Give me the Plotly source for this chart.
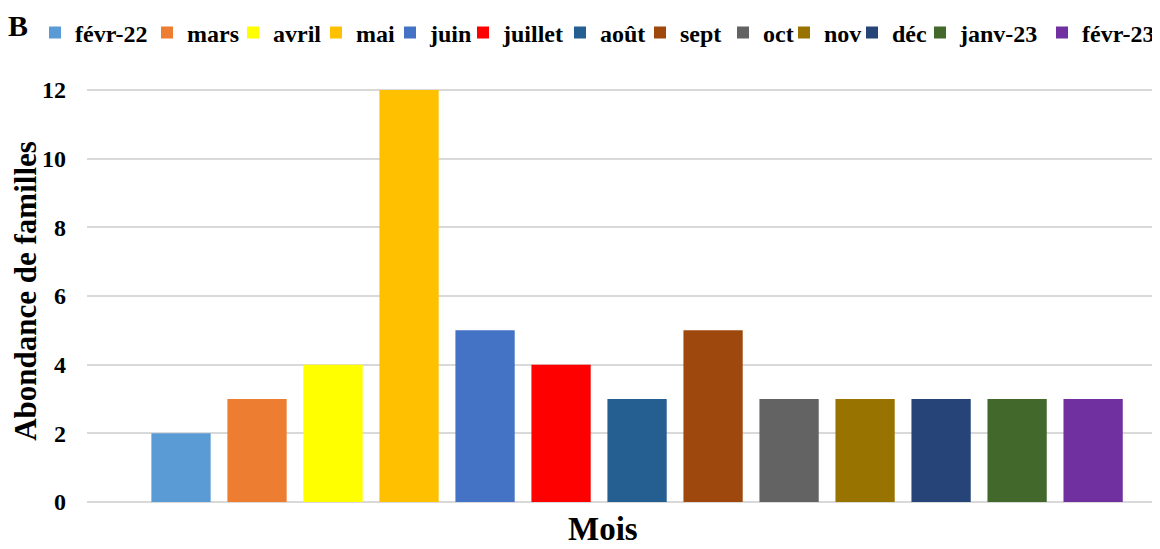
import plotly.graph_objects as go

months = ["févr-22", "mars", "avril", "mai", "juin", "juillet", "août",
          "sept", "oct", "nov", "déc", "janv-23", "févr-23"]
values = [2, 3, 4, 12, 5, 4, 3, 5, 3, 3, 3, 3, 3]
colors = ["#5B9BD5", "#ED7D31", "#FFFF00", "#FFC000", "#4472C4", "#FF0000",
          "#255E91", "#9E480E", "#636363", "#997300", "#264478", "#43682B",
          "#7030A0"]
y_ticks = [0, 2, 4, 6, 8, 10, 12]
# page x (px) of each legend entry's colour swatch in the reference
legend_left_px = [55, 167, 253, 336, 410, 483, 580, 660, 743, 804, 872, 940, 1062]

FONT = "Liberation Serif, Times New Roman, serif"
# the page body has an 8px margin, so the figure is drawn 8px smaller
W, H = 1152, 541
L, T, B = 79, 72, 47
PH = H - T - B

fig = go.Figure()
legends = {}
for i, (m, v, c) in enumerate(zip(months, values, colors)):
    lname = "legend" if i == 0 else f"legend{i + 1}"
    fig.add_trace(go.Bar(x=[m], y=[v], name=m, marker_color=c,
                         marker_line_width=0, width=0.78, legend=lname))
    legends[lname] = dict(
        orientation="h", xref="container", yref="container",
        x=(legend_left_px[i] - 28) / W, xanchor="left",
        y=1 - 25 / H, yanchor="middle",
        font=dict(family=FONT, size=24, color="black", weight="bold"),
        itemwidth=30, bgcolor="rgba(0,0,0,0)", borderwidth=0,
    )

fig.update_layout(
    width=W, height=H,
    margin=dict(l=L, r=0, t=T, b=B, autoexpand=False),
    paper_bgcolor="white", plot_bgcolor="white",
    barmode="overlay",
    showlegend=True,
    font=dict(family=FONT, color="black"),
    **legends,
)
fig.update_xaxes(type="category", categoryorder="array", categoryarray=months,
                 range=[-1.237, 12.88], showticklabels=False, showgrid=False,
                 zeroline=False, showline=False, ticks="")
fig.update_yaxes(range=[0, 12.29], tickvals=y_ticks, showgrid=True,
                 gridcolor="#D9D9D9", gridwidth=2, zeroline=True,
                 zerolinecolor="#D9D9D9", zerolinewidth=2, showline=False,
                 tickfont=dict(family=FONT, size=24, color="black", weight="bold"),
                 ticklabelstandoff=20,
                 title=dict(text="Abondance de familles",
                            font=dict(family=FONT, size=31, color="black", weight="bold"),
                            standoff=10))

fig.add_annotation(text="Mois", xref="paper", yref="paper",
                   x=(595 - L) / (W - L), y=-(521 - (T + PH)) / PH,
                   xanchor="center", yanchor="middle", showarrow=False,
                   font=dict(family=FONT, size=33, color="black", weight="bold"))
fig.add_annotation(text="B", xref="paper", yref="paper",
                   x=(10 - L) / (W - L), y=((T + PH) - 17) / PH,
                   xanchor="center", yanchor="middle", showarrow=False,
                   font=dict(family=FONT, size=30, color="black", weight="bold"))

fig.write_html("out.html")
